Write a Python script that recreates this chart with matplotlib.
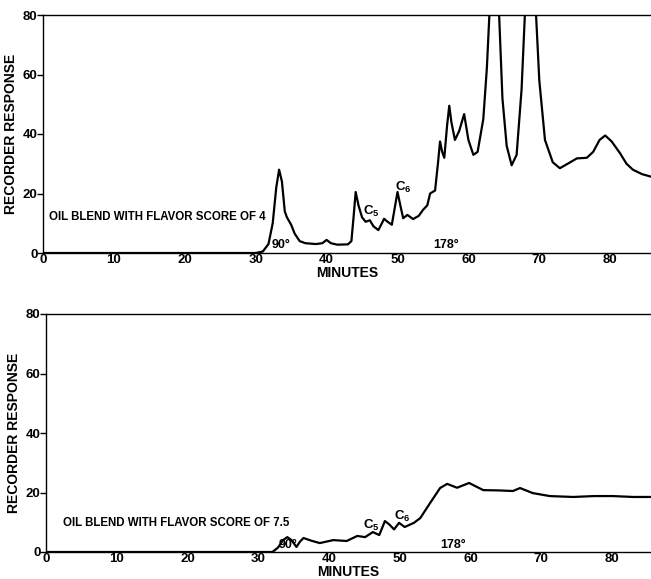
import matplotlib
matplotlib.use("Agg")
import matplotlib.pyplot as plt

plt.rcParams['font.family'] = ['Liberation Sans', 'DejaVu Sans']
plt.rcParams['font.weight'] = 'bold'
plt.rcParams['mathtext.default'] = 'regular'

# ---- data ----
x_ticks = [0, 10, 20, 30, 40, 50, 60, 70, 80]
y_ticks = [0, 20, 40, 60, 80]

time_top = [0, 30, 31, 31.8, 32.4, 32.9, 33.3, 33.7, 34.1, 34.4,
            35.0, 35.5, 36.2, 37, 38.5, 39.4, 40.0, 40.6, 41.5, 43.0,
            43.5, 43.8, 44.1, 44.5, 45.0, 45.5, 46.1, 46.6, 47.3, 47.8,
            48.1, 48.6, 49.2, 49.6, 50.0, 50.4, 50.8, 51.4, 52.2, 53.0,
            53.6, 54.2, 54.6, 55.3, 55.7, 56.0, 56.3, 56.6, 57.0, 57.3,
            57.6, 58.1, 58.7, 59.4, 60.0, 60.7, 61.3, 62.1, 62.6, 63.0,
            63.6, 64.3, 64.8, 65.4, 66.1, 66.8, 67.5, 68.0, 68.7, 69.5,
            70.0, 70.8, 71.9, 72.9, 74, 75.3, 76.7, 77.6, 78.5, 79.3,
            80.2, 81.4, 82.3, 83.2, 84.5, 86]
resp_top = [0, 0, 0.5, 3, 10, 22, 28, 24, 14, 12,
            9.5, 6.5, 4, 3.3, 3, 3.3, 4.4, 3.3, 2.8, 2.9,
            4, 12, 20.5, 16, 12, 10.5, 11, 9, 7.7, 10,
            11.5, 10.5, 9.5, 15, 20.5, 16, 11.7, 12.8, 11.4, 12.5,
            14.5, 16, 20, 21, 30, 37.5, 34, 32, 43, 49.5,
            44, 38, 41, 46.7, 38, 33, 34, 45, 62, 82,
            110, 82, 52, 36, 29.5, 33, 55, 82, 110, 82,
            58, 38, 30.5, 28.5, 30, 31.8, 32, 34, 38, 39.5,
            37.5, 33.5, 30, 28, 26.5, 25.5]

time_bot = [0, 32, 32.8, 33.5, 34.1, 34.7, 35.4, 35.9, 36.4, 37.5,
            38.7, 40.6, 42.5, 44.0, 45.1, 46.2, 47.1, 47.5, 47.9, 48.5,
            49.2, 49.9, 50.7, 52.0, 52.9, 54.3, 55.7, 56.7, 58.1, 59.8,
            61.8, 64.0, 66.0, 67.0, 68.8, 71.2, 74.5, 77.5, 80.1, 83.0,
            86]
resp_bot = [0, 0, 1.5, 4, 5, 4, 1.7, 3.5, 4.7, 3.8,
            3.0, 4, 3.7, 5.4, 5, 6.7, 5.7, 8, 10.4, 9.3,
            7.6, 9.8, 8.4, 9.8, 11.4, 16.5, 21.5, 22.9, 21.6, 23.2,
            20.8, 20.7, 20.5, 21.5, 19.8, 18.8, 18.5, 18.8, 18.8, 18.5,
            18.5]

title_top = "OIL BLEND WITH FLAVOR SCORE OF 4"
title_bot = "OIL BLEND WITH FLAVOR SCORE OF 7.5"

W, H = 651, 579
fig = plt.figure(figsize=(W / 100, H / 100), dpi=100)

def make_axes(left_px, bottom_px, top_px, x0):
    ax = fig.add_axes([left_px / W, 1 - bottom_px / H,
                       1 - left_px / W, (bottom_px - top_px) / H])
    xmax = (W - left_px) / x0
    ax.set_xlim(0, xmax)
    ax.set_ylim(0, 80)
    ax.spines['right'].set_visible(False)
    for s in ['left', 'top', 'bottom']:
        ax.spines[s].set_linewidth(1.0)
    ax.set_xticks(x_ticks)
    ax.set_yticks(y_ticks)
    ax.tick_params(axis='x', length=0, pad=1, labelsize=9.5)
    ax.tick_params(axis='y', length=4, width=1, pad=0, labelsize=9.5)
    for lab in ax.get_xticklabels() + ax.get_yticklabels():
        lab.set_fontweight('bold')
    ax.set_ylabel("RECORDER RESPONSE", fontsize=10, fontweight='bold', labelpad=3)
    ax.set_xlabel("MINUTES", fontsize=10, fontweight='bold', labelpad=0)
    return ax

ax1 = make_axes(43, 253, 15, 7.09)
ax1.plot(time_top, resp_top, color='black', lw=1.6, clip_on=True)
ax1.text(0.9, 12, title_top, fontsize=8.3, fontweight='bold', va='center')
ax1.text(33.6, 0.6, "90°", fontsize=9, ha='center', va='bottom')
ax1.text(56.8, 0.6, "178°", fontsize=9, ha='center', va='bottom')
ax1.text(46.3, 14, "C$_5$", fontsize=9.5, ha='center', va='center')
ax1.text(50.8, 22, "C$_6$", fontsize=9.5, ha='center', va='center')

ax2 = make_axes(46, 552, 314, 7.075)
ax2.plot(time_bot, resp_bot, color='black', lw=1.6)
ax2.text(2.4, 9.7, title_bot, fontsize=8.3, fontweight='bold', va='center')
ax2.text(34.2, 0.2, "90°", fontsize=9, ha='center', va='bottom')
ax2.text(57.6, 0.4, "178°", fontsize=9, ha='center', va='bottom')
ax2.text(46.0, 9, "C$_5$", fontsize=9.5, ha='center', va='center')
ax2.text(50.4, 12, "C$_6$", fontsize=9.5, ha='center', va='center')

fig.savefig("out.png", dpi=100)
